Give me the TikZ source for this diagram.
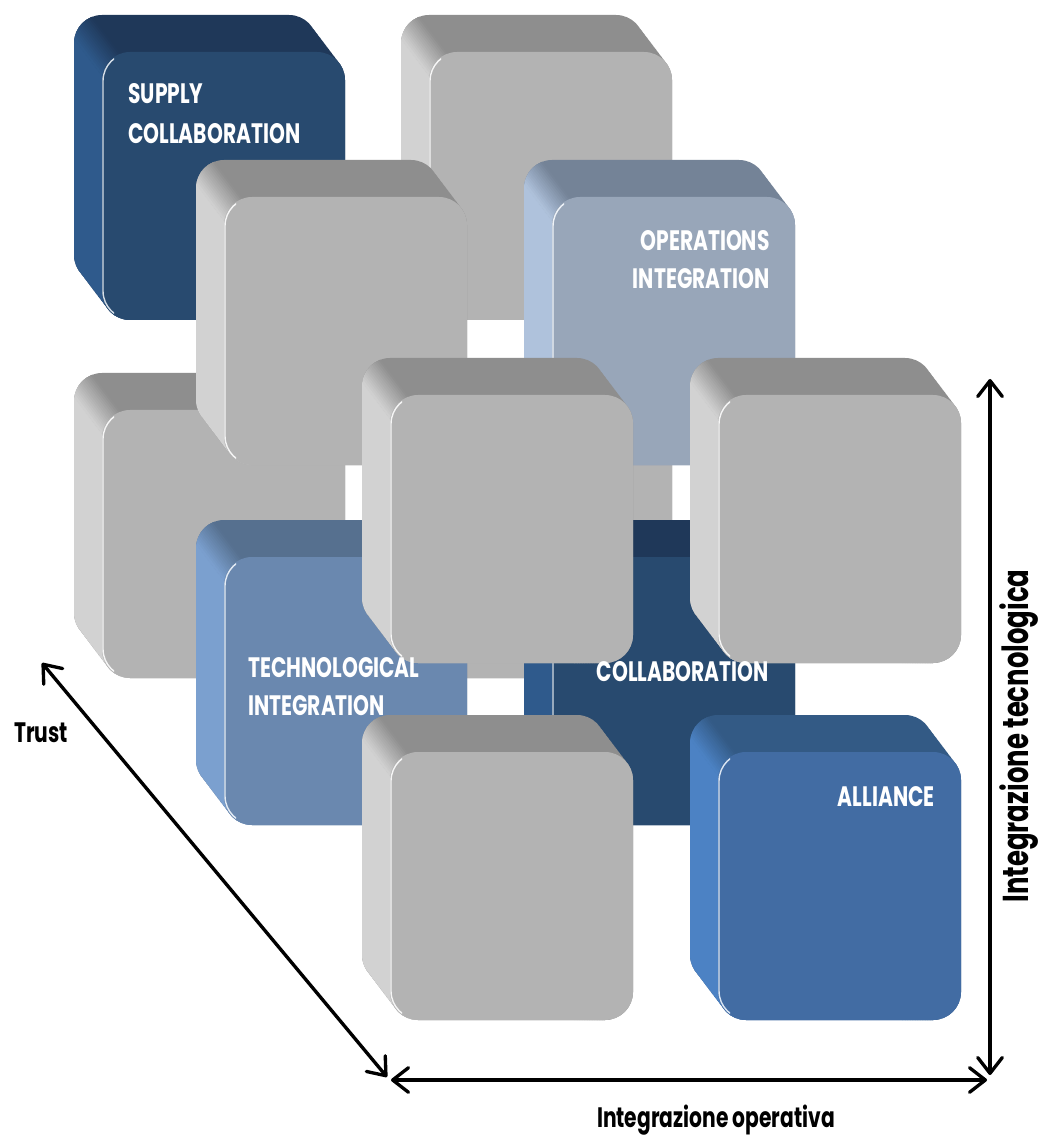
\documentclass[tikz,border=0pt]{standalone}
\usepackage{fontspec}
\newfontfamily\cubefont{Poppins}[FakeStretch=0.72]
\usetikzlibrary{arrows.meta}

\definecolor{grayface}{HTML}{B3B3B3}
\definecolor{graytop}{HTML}{8E8E8E}
\definecolor{grayside}{HTML}{D2D2D2}
\definecolor{navyface}{HTML}{284A6F}
\definecolor{navytop}{HTML}{1F3859}
\definecolor{navyside}{HTML}{2F5A8C}
\definecolor{opsface}{HTML}{98A6B9}
\definecolor{opstop}{HTML}{748397}
\definecolor{opsside}{HTML}{AFC2DC}
\definecolor{techface}{HTML}{6A88AF}
\definecolor{techtop}{HTML}{56708F}
\definecolor{techside}{HTML}{7BA0CF}
\definecolor{allyface}{HTML}{426CA3}
\definecolor{allytop}{HTML}{335A85}
\definecolor{allyside}{HTML}{4C82C4}

\newcommand{\cuberad}{0.56cm}
% #1,#2 = top left corner of the front face, #3 face, #4 top, #5 side
\newcommand{\drawcube}[5]{%
  \begin{scope}
    \clip[rounded corners=\cuberad] \foreach \t in {0,...,10} {(#1-2.8*\t,#2-3.7*\t) rectangle ++(243,268)};
    \fill[#4] (#1-40,#2-50) rectangle (#1+260,#2+280);
    \begin{scope}[shift={(#1+9,#2+9)},rotate=217.1]
      \fill[#5] (16,-600) rectangle (600,600);
      \foreach \k [evaluate=\k as \pc using {int(100*(\k+0.5)/14)}] in {0,...,13}
        \fill[#5!\pc!#4] (-12+2*\k,-600) rectangle (-9.6+2*\k,600);
    \end{scope}
  \end{scope}
  \fill[#3,rounded corners=\cuberad] (#1,#2) rectangle ++(243,268);
  \begin{scope}
    \clip (#1-3,#2-3) rectangle (#1+12,#2+271);
    \draw[white!80!#5,line width=0.8pt,rounded corners=\cuberad] (#1+1,#2+1) rectangle ++(241,266);
  \end{scope}
}

\tikzset{
  cubetext/.style={font=\cubefont\bfseries\fontsize{16}{19}\selectfont, text=white, inner sep=0pt},
  axistext/.style={font=\cubefont\bfseries\fontsize{16}{19}\selectfont, text=black, inner sep=0pt},
  axisline/.style={line width=1.9pt, {Straight Barb[round,length=9pt,width=14pt]}-{Straight Barb[round,length=9pt,width=14pt]}}
}

\begin{document}
\begin{tikzpicture}[x=0.02cm,y=-0.02cm]
    \useasboundingbox (0,0) rectangle (1043,1141);
    \fill[white] (0,0) rectangle (1043,1141);

    % back layer
    \drawcube{102}{52}{navyface}{navytop}{navyside}
    \drawcube{429}{52}{grayface}{graytop}{grayside}
    \drawcube{102}{410}{grayface}{graytop}{grayside}
    \drawcube{429}{410}{grayface}{graytop}{grayside}
    % middle layer
    \drawcube{224}{197}{grayface}{graytop}{grayside}
    \drawcube{552}{197}{opsface}{opstop}{opsside}
    \drawcube{224}{557}{techface}{techtop}{techside}
    \drawcube{552}{557}{navyface}{navytop}{navyside}
    % front layer
    \drawcube{390}{395}{grayface}{graytop}{grayside}
    \drawcube{718}{395}{grayface}{graytop}{grayside}
    \drawcube{390}{752}{grayface}{graytop}{grayside}
    \drawcube{718}{752}{allyface}{allytop}{allyside}

    \node[cubetext, anchor=base west] (supplyA) at (128,104) {SUPPLY};
    \node[cubetext, anchor=base west] (supplyB) at (128,144) {COLLABORATION};
    \node[cubetext, anchor=base east] (opsA) at (770,251) {OPERATIONS};
    \node[cubetext, anchor=base east] (opsB) at (770,289) {INTEGRATION};
    \node[cubetext, anchor=base west] (techA) at (248,677) {TECHNOLOGICAL};
    \node[cubetext, anchor=base west] (techB) at (248,715) {INTEGRATION};
    \node[cubetext, anchor=base east] (collab) at (769,681) {COLLABORATION};
    \node[cubetext, anchor=base east] (alliance) at (935,806) {ALLIANCE};

    \coordinate (trustTop) at (42,663);
    \coordinate (trustEnd) at (387,1077);
    \coordinate (opLeft) at (391,1080);
    \coordinate (opRight) at (987,1080);
    \coordinate (tecTop) at (990,379);
    \coordinate (tecBottom) at (990,1075);

    \draw[axisline] (trustTop) -- (trustEnd);
    \draw[axisline] (opLeft) -- (opRight);
    \draw[axisline] (tecTop) -- (tecBottom);

    \node[axistext, anchor=base west] (trust) at (14,742) {Trust};
    \node[axistext, anchor=base] (opLabel) at (716,1127) {Integrazione operativa};
    \node[axistext, anchor=base, rotate=90, font=\cubefont\bfseries\fontsize{20.5}{24}\selectfont] (tecLabel) at (1028,736) {Integrazione tecnologica};
  \end{tikzpicture}
\end{document}
